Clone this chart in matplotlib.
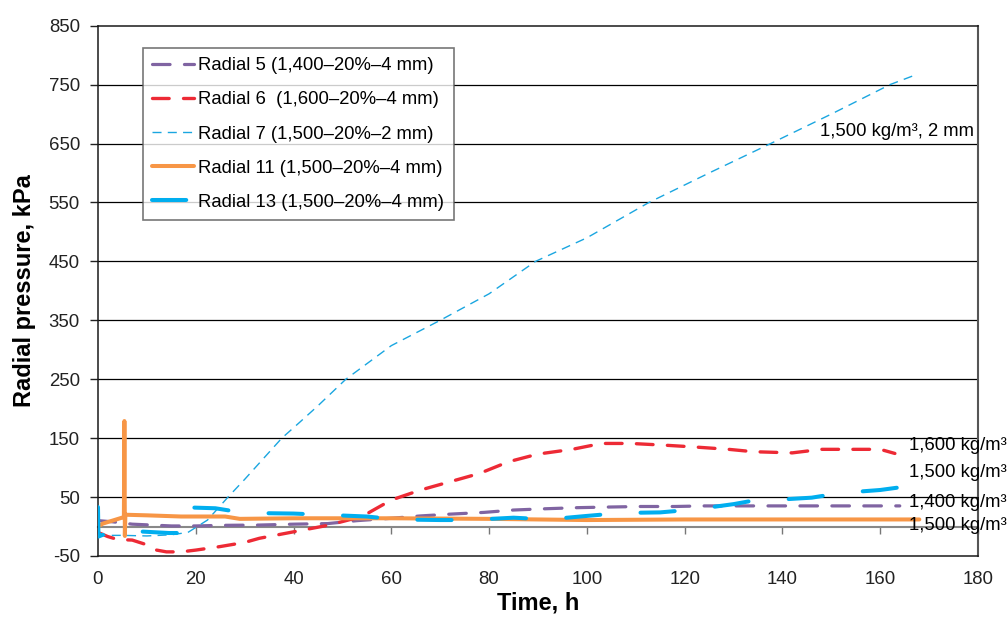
import matplotlib
matplotlib.use("Agg")
import matplotlib.pyplot as plt

plt.rcParams['font.family'] = ['Liberation Sans', 'DejaVu Sans']

# ---- data ----
t5 = [0, 3, 7, 15, 20, 25, 33, 40, 47, 53, 60, 66, 72, 79, 85, 91, 98, 104, 111, 118, 124, 130, 140, 150, 160, 164]
v5 = [10, 8, 4, 1, 1, 2, 2.5, 4, 5, 10, 14, 18, 21, 24, 28, 30, 32, 33, 34, 34, 35, 35, 35, 35, 35, 35]

t6 = [0, 2, 4, 7, 10, 12, 14, 17, 20, 25, 30, 33, 40, 47, 54, 60, 66, 72, 78, 84, 90, 97, 103, 109, 116, 122, 129, 134, 142, 148, 155, 160, 163]
v6 = [-10, -17, -22, -23, -31, -40, -43, -43, -40, -34, -27, -20, -9, 2, 17, 45, 62, 76, 90, 110, 123, 131, 141, 141, 138, 135, 131, 127, 125, 131, 131, 131, 124]

t7 = [0, 1, 5, 10, 15, 18.4, 22.4, 26.6, 30, 37.6, 41, 45, 50.7, 60, 70, 80, 89.5, 100, 112.7, 125, 137.6, 150, 162, 167.7]
v7 = [-8, -15, -15, -16, -14, -10, 11, 50, 80, 150, 175, 205, 250, 307, 350, 395, 450, 490, 550, 600, 650, 700, 750, 768]

t11 = [0, 1, 5.3, 5.4, 5.5, 5.6, 10, 17, 26, 29, 40, 60, 80, 100, 120, 140, 168]
v11 = [0, 5, 16, 179, -16, 20, 19, 17, 17, 13, 14, 14, 13, 11, 12, 12, 12]

t13 = [0, 0.1, 1, 3, 5.5, 10, 14.5, 16.3, 16.6, 17, 20, 24, 27, 31, 40, 46, 55, 61, 70, 76, 85, 92, 100, 107, 115, 122, 130, 134, 140, 146, 152, 160, 168]
v13 = [33, -17, -14, -9, -7, -9, -11, -11, 0, 33, 32, 31, 27, 23, 22, 20, 17, 12, 11, 11, 15, 12, 18, 23, 24, 29, 38, 44, 46, 49, 57, 62, 71]

labels = ["Radial 5 (1,400\u201320%\u20134 mm)",
          "Radial 6  (1,600\u201320%\u20134 mm)",
          "Radial 7 (1,500\u201320%\u20132 mm)",
          "Radial 11 (1,500\u201320%\u20134 mm)",
          "Radial 13 (1,500\u201320%\u20134 mm)"]

xticks = [0, 20, 40, 60, 80, 100, 120, 140, 160, 180]
yticks = [-50, 50, 150, 250, 350, 450, 550, 650, 750, 850]

right_labels = ["1,600 kg/m\u00b3", "1,500 kg/m\u00b3", "1,400 kg/m\u00b3", "1,500 kg/m\u00b3"]
right_label_y = [138, 92, 40, 1]
top_label = "1,500 kg/m\u00b3, 2 mm"

# ---- figure ----
fig = plt.figure(figsize=(10.07, 6.19), dpi=100)
ax = fig.add_axes([0.0973, 0.1018, 0.8739, 0.8567])
ax.set_xlim(0, 180)
ax.set_ylim(-50, 850)

# grid
for y in yticks[1:-1]:
    ax.axhline(y, color='black', lw=0.9, zorder=1)

cap = dict(dash_capstyle='round', solid_capstyle='round')
ax.plot(t5, v5, color='#8064A2', lw=2.3, dashes=(5.5, 4.5), label=labels[0], zorder=3, **cap)
ax.plot(t6, v6, color='#ED2A35', lw=2.4, dashes=(5.0, 4.3), label=labels[1], zorder=3, **cap)
ax.plot(t7, v7, color='#1AA6E0', lw=1.0, dashes=(6.5, 4.5), label=labels[2], zorder=3)
ax.plot(t11, v11, color='#F79646', lw=2.9, label=labels[3], zorder=4, **cap)
ax.plot(t13, v13, color='#00AEEF', lw=2.9, dashes=(8.5, 10), label=labels[4], zorder=5, **cap)

# axes styling
ax.set_xticks(xticks)
ax.set_yticks(yticks)
ax.tick_params(axis='x', length=0, pad=11, labelsize=13.4, colors='#222222')
ax.tick_params(axis='y', length=6, width=1, direction='out', pad=7, labelsize=13.4, colors='#222222')
ax.set_yticklabels([str(v) for v in yticks])
for side in ['left', 'top', 'bottom']:
    ax.spines[side].set_color('#1a1a1a')
    ax.spines[side].set_linewidth(1.1)
ax.spines['right'].set_color('#555555')
ax.spines['right'].set_linewidth(1.5)

# horizontal axis line at zero with tick marks
sec = ax.secondary_xaxis(50 / 900)
sec.set_xticks(xticks)
sec.tick_params(axis='x', length=5, width=1, direction='out', colors='#777777', labelbottom=False)
sec.spines['bottom'].set_color('#888888')
sec.spines['bottom'].set_linewidth(1.5)

ax.set_xlabel("Time, h", fontsize=17, fontweight='bold', labelpad=2)
ax.set_ylabel("Radial pressure, kPa", fontsize=17, fontweight='bold', labelpad=9)

leg = ax.legend(loc='upper left', bbox_to_anchor=(0.051, 0.958), fontsize=13.3,
                frameon=True, fancybox=False, edgecolor='#555555', borderaxespad=0,
                handlelength=2.25, handletextpad=0.25, labelspacing=0.93, borderpad=0.5)
leg.get_frame().set_linewidth(1.2)
leg.set_zorder(10)

for txt, y in zip(right_labels, right_label_y):
    ax.text(165.9, y, txt, fontsize=13.3, ha='left', va='center', clip_on=False, zorder=6)
ax.text(179.2, 671, top_label, fontsize=13.3, ha='right', va='center', zorder=6)

fig.savefig("out.png", dpi=100)
